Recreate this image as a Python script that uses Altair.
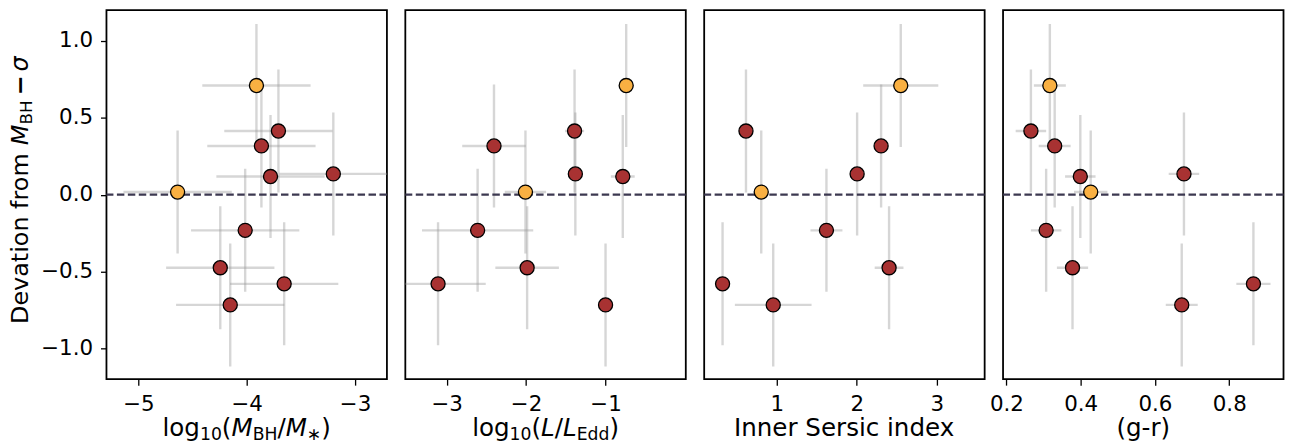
import altair as alt
import pandas as pd

# ---------------- data ----------------
deviation = [0.71, 0.414, 0.317, 0.135, 0.118, 0.017, -0.232, -0.475, -0.58, -0.717]
deviation_err = [0.4, 0.4, 0.4, 0.4, 0.4, 0.4, 0.4, 0.4, 0.4, 0.4]
sample = ["b", "a", "a", "a", "a", "b", "a", "a", "a", "a"]

log_mbh_mstar = [-3.91, -3.707, -3.864, -3.2, -3.78, -4.638, -4.014, -4.244, -3.654, -4.152]
log_mbh_mstar_err = [0.5, 0.5, 0.5, 0.5, 0.5, 0.5, 0.5, 0.5, 0.5, 0.5]

log_edd = [-0.74, -1.39, -2.404, -1.38, -0.783, -2.008, -2.61, -1.987, -3.108, -1.0]
log_edd_err = [0.05, 0.12, 0.4, 0.05, 0.15, 0.26, 0.7, 0.4, 0.6, 0.0]

sersic = [2.55, 0.613, 2.304, 2.004, None, 0.804, 1.62, 2.404, 0.32, 0.954]
sersic_err = [0.47, 0.0, 0.0, 0.0, None, 0.0, 0.2, 0.18, 0.0, 0.48]

g_r = [0.317, 0.266, 0.330, 0.678, 0.399, 0.427, 0.307, 0.378, 0.865, 0.672]
g_r_err = [0.043, 0.041, 0.043, 0.041, 0.041, 0.045, 0.041, 0.042, 0.046, 0.043]

y_ticks = [-1.0, -0.5, 0.0, 0.5, 1.0]

# ---------------- style ----------------
FONT = "DejaVu Sans"
TICK_FS = 21.5
W, H = 282, 371
RED = "#a83232"
ORANGE = "#f9b042"
ERR = "#999999"
DASH = "#3c3850"

EM = {" ": .318, "(": .390, ")": .390, "/": .337, "-": .361, "0": .636, "1": .636,
      "B": .686, "D": .770, "E": .632, "H": .752, "I": .295, "L": .557, "M": .863,
      "S": .635, "a": .613, "c": .550, "d": .635, "e": .615, "f": .352, "g": .635,
      "i": .278, "l": .278, "m": .974, "n": .634, "o": .612, "r": .411, "s": .521,
      "t": .392, "v": .592, "x": .592, "\u03c3": .634, "\u2212": .838, "\u2217": .838}


def seg_len(seg, fs):
    txt, style = seg
    if style == "gap":
        return txt
    size = fs * 0.7 if style == "sub" else fs
    return sum(EM.get(c, 0.6) for c in txt) * size


def rich_text(segs, start, base, fs, vertical=False, centered=False):
    total = sum(seg_len(s, fs) for s in segs)
    pos = start - total / 2 if centered else start
    layers = []
    for seg in segs:
        txt, style = seg
        ln = seg_len(seg, fs)
        if style != "gap":
            size = fs * 0.7 if style == "sub" else fs
            shift = fs * 0.17 if style == "sub" else 0
            if vertical:
                xv, yv = base + shift, pos
            else:
                xv, yv = pos, base + shift
            layers.append(
                alt.Chart(alt.Data(values=[{"k": 0}])).mark_text(
                    text=txt, font=FONT, fontSize=size,
                    fontStyle="italic" if style == "i" else "normal",
                    fontWeight="bold" if style == "b" else "normal",
                    align="left", baseline="alphabetic",
                    angle=270 if vertical else 0, color="black",
                ).encode(x=alt.value(xv), y=alt.value(yv))
            )
        pos = pos - ln if vertical else pos + ln
    return layers


def panel(xv, xe, domain, ticks, fmt, title_segs, show_y):
    df = pd.DataFrame({"x": xv, "xe": xe, "y": deviation, "ye": deviation_err,
                       "s": sample}).dropna()
    df["x_lo"] = df["x"] - df["xe"]
    df["x_hi"] = df["x"] + df["xe"]
    df["y_lo"] = df["y"] - df["ye"]
    df["y_hi"] = df["y"] + df["ye"]

    xs = alt.Scale(domain=domain, nice=False, zero=False)
    ys = alt.Scale(domain=[-1.2, 1.2], nice=False, zero=False)
    xa = alt.Axis(values=ticks, format=fmt, title=None, labelPadding=9)
    ya = alt.Axis(values=y_ticks, format=".1f", title=None, labelPadding=8) if show_y else None

    def X(f):
        return alt.X(f, scale=xs, axis=xa)

    def Y(f):
        return alt.Y(f, scale=ys, axis=ya)

    base = alt.Chart(df)
    xerr = base.mark_rule(color=ERR, opacity=0.4, strokeWidth=2.4, clip=True).encode(
        x=X("x_lo:Q"), x2="x_hi:Q", y=Y("y:Q"))
    yerr = base.mark_rule(color=ERR, opacity=0.4, strokeWidth=2.4, clip=True).encode(
        x=X("x:Q"), y=Y("y_lo:Q"), y2="y_hi:Q")
    zero = alt.Chart(pd.DataFrame({"z": [0.0]})).mark_rule(
        color=DASH, strokeWidth=2.2, strokeDash=[7.5, 3.5]).encode(y=Y("z:Q"))
    pts = base.mark_point(filled=True, size=200, stroke="black", strokeWidth=1.3,
                          opacity=1).encode(
        x=X("x:Q"), y=Y("y:Q"),
        fill=alt.Fill("s:N", scale=alt.Scale(domain=["a", "b"], range=[RED, ORANGE]),
                      legend=None))
    layers = [xerr, yerr, zero, pts]
    layers += rich_text(title_segs, W / 2, 428, 24.7, centered=True)
    if show_y:
        ytitle = [("Devation from ", "n"), ("M", "i"), ("BH", "sub"), (5, "gap"),
                  ("\u2212", "b"), (4, "gap"), ("\u03c3", "i")]
        layers += rich_text(ytitle, 315.5, -79, 24.0, vertical=True)
    return alt.layer(*layers).properties(width=W, height=H)


p1 = panel(log_mbh_mstar, log_mbh_mstar_err, [-5.295, -2.705], [-5, -4, -3], "d",
           [("log", "n"), ("10", "sub"), ("(", "n"), ("M", "i"), ("BH", "sub"),
            ("/", "n"), ("M", "i"), ("\u2217", "sub"), (")", "n")], True)
p2 = panel(log_edd, log_edd_err, [-3.52, 0.01], [-3, -2, -1], "d",
           [("log", "n"), ("10", "sub"), ("(", "n"), ("L", "i"), ("/", "n"),
            ("L", "i"), ("Edd", "sub"), (")", "n")], False)
p3 = panel(sersic, sersic_err, [0.09, 3.6], [1, 2, 3], "d",
           [("Inner Sersic index", "n")], False)
p4 = panel(g_r, g_r_err, [0.191, 0.946], [0.2, 0.4, 0.6, 0.8], ".1f",
           [("(g-r)", "n")], False)

chart = alt.hconcat(p1, p2, p3, p4, spacing=18.5, bounds="flush").properties(
    padding=0
).configure_view(
    stroke="black", strokeWidth=1.8
).configure_axis(
    domain=False, grid=False, ticks=True, tickColor="black", tickWidth=1.3,
    tickSize=6, labelFont=FONT, labelFontSize=TICK_FS, labelColor="black"
)

chart.save("out.html", embed_options={"renderer": "svg", "actions": False})
